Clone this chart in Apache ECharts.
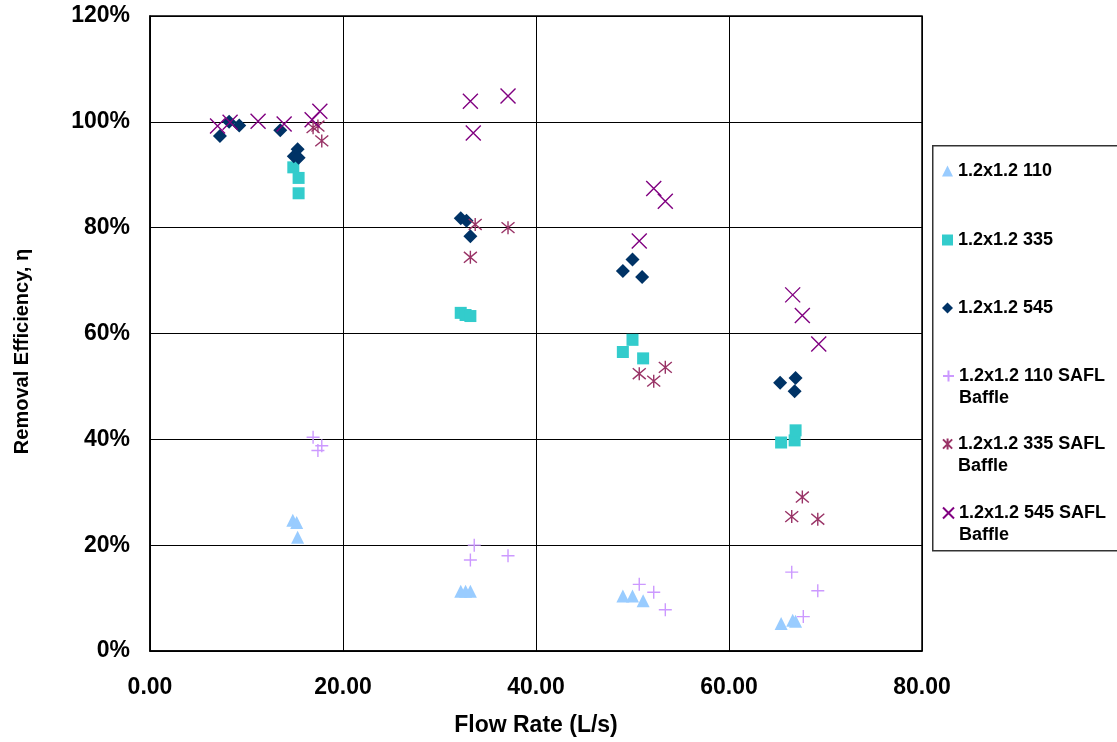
<!DOCTYPE html>
<html>
<head>
<meta charset="utf-8">
<script src="https://cdn.jsdelivr.net/npm/echarts@6/dist/echarts.min.js"></script>
<style>html,body{margin:0;padding:0;background:#fff}#c{width:1117px;height:742px}</style>
</head>
<body>
<div id="c"></div>
<script>
const xTicks = [0, 20, 40, 60, 80];
const yTicks = [0, 20, 40, 60, 80, 100, 120];
const seriesNames = ['1.2x1.2 110', '1.2x1.2 335', '1.2x1.2 545', '1.2x1.2 110 SAFL Baffle', '1.2x1.2 335 SAFL Baffle', '1.2x1.2 545 SAFL Baffle'];

const flow110 = [14.8, 15.2, 15.3, 32.2, 32.7, 33.2, 49.0, 50.0, 51.1, 65.4, 66.6, 66.9];
const eff110  = [24.7, 24.3, 21.5, 11.3, 11.3, 11.3, 10.4, 10.4, 9.5, 5.2, 5.8, 5.6];

const flow335 = [14.85, 15.4, 15.4, 32.2, 32.7, 33.2, 49.0, 50.0, 51.1, 65.4, 66.8, 66.9];
const eff335  = [91.4, 89.4, 86.5, 63.9, 63.5, 63.3, 56.5, 58.8, 55.3, 39.4, 39.8, 41.7];

const flow545 = [7.25, 8.2, 9.25, 13.5, 14.9, 15.3, 15.4, 32.2, 32.8, 33.2, 49.0, 50.0, 51.0, 65.3, 66.8, 66.9];
const eff545  = [97.3, 100.0, 99.3, 98.4, 93.5, 94.8, 93.2, 81.8, 81.3, 78.4, 71.8, 74.0, 70.7, 50.7, 49.1, 51.6];

const flow110S = [16.9, 17.4, 17.8, 33.2, 33.6, 37.1, 50.7, 52.2, 53.4, 66.5, 67.7, 69.2];
const eff110S  = [40.4, 37.9, 38.8, 17.2, 20.0, 18.0, 12.6, 11.1, 7.8, 14.9, 6.5, 11.4];

const flow335S = [16.9, 17.4, 17.8, 33.2, 33.7, 37.1, 50.7, 52.2, 53.4, 66.5, 67.6, 69.2];
const eff335S  = [98.9, 99.2, 96.4, 74.4, 80.6, 80.0, 52.4, 51.0, 53.6, 25.4, 29.1, 24.9];

const flow545S = [7.0, 8.3, 11.2, 13.9, 16.8, 17.6, 33.2, 33.5, 37.1, 50.7, 52.2, 53.4, 66.6, 67.6, 69.3];
const eff545S  = [99.2, 99.9, 100.1, 99.6, 100.4, 102.0, 103.9, 97.9, 104.9, 77.5, 87.4, 85.0, 67.3, 63.4, 58.0];

const pair = (xs, ys) => xs.map((x, i) => [x, ys[i]]);
const FONT = '"Liberation Sans", Arial, sans-serif';

const PLUS = 'path://M0,5L10,5M5,0L5,10';
const ASTER = 'path://M0,0L10,10M10,0L0,10M5,-1L5,11';
const CROSS = 'path://M0,0L10,10M10,0L0,10';

const defs = [
  {data: pair(flow110, eff110), symbol: 'triangle', size: 13, color: '#99CCFF', line: false},
  {data: pair(flow335, eff335), symbol: 'rect', size: 12, color: '#33CCCC', line: false},
  {data: pair(flow545, eff545), symbol: 'diamond', size: 14, color: '#003366', line: false},
  {data: pair(flow110S, eff110S), symbol: PLUS, size: 13, color: '#CC99FF', line: true},
  {data: pair(flow335S, eff335S), symbol: ASTER, size: 13, color: '#993366', line: true},
  {data: pair(flow545S, eff545S), symbol: CROSS, size: 15, color: '#800080', line: true}
];

const series = defs.map((d, i) => ({
  name: seriesNames[i],
  type: 'scatter',
  data: d.data,
  symbol: d.symbol,
  symbolSize: d.size,
  itemStyle: d.line ? {color: d.color, borderColor: d.color, borderWidth: 1.4, opacity: 1}
                    : {color: d.color, borderWidth: 0, opacity: 1},
  emphasis: {disabled: true},
  z: 3
}));

const legendCenters = [171, 240, 308, 376, 444, 513];
const L = 22;
const legends = seriesNames.map((n, i) => {
  const twoLine = i >= 3;
  return {
    data: [n],
    orient: 'vertical',
    left: 942,
    top: twoLine ? legendCenters[i] - 1.5 * L : legendCenters[i] - L / 2,
    padding: 0,
    itemWidth: 11,
    itemHeight: 11,
    itemGap: 0,
    selectedMode: false,
    formatter: function (name) {
      return twoLine ? '\n' + name.replace(' Baffle', '\nBaffle') : name;
    },
    textStyle: {
      fontFamily: FONT, fontWeight: 'bold', fontSize: 18, color: '#000',
      lineHeight: L
    }
  };
});

const chart = echarts.init(document.getElementById('c'), null, {renderer: 'canvas'});
chart.setOption({
  animation: false,
  backgroundColor: '#fff',
  grid: {left: 150, right: 195, top: 16, bottom: 90, show: true, borderColor: '#000', borderWidth: 1.5, backgroundColor: 'transparent'},
  graphic: [{
    type: 'rect', left: 932, top: 145, z: 0,
    shape: {x: 0, y: 0, width: 200, height: 405},
    style: {fill: '#fff', stroke: '#333', lineWidth: 1.5}
  }],
  legend: legends,
  xAxis: {
    type: 'value', min: xTicks[0], max: xTicks[xTicks.length - 1], interval: 20,
    name: 'Flow Rate (L/s)', nameLocation: 'middle', nameGap: 63,
    nameTextStyle: {fontFamily: FONT, fontWeight: 'bold', fontSize: 23, color: '#000'},
    axisLine: {show: true, lineStyle: {color: '#000', width: 1.5}},
    axisTick: {show: false},
    splitLine: {show: true, lineStyle: {color: '#000', width: 1}},
    axisLabel: {fontFamily: FONT, fontWeight: 'bold', fontSize: 23, color: '#000', margin: 25,
      formatter: v => v.toFixed(2)}
  },
  yAxis: {
    type: 'value', min: yTicks[0], max: yTicks[yTicks.length - 1], interval: 20,
    name: 'Removal Efficiency, η', nameLocation: 'middle', nameGap: 118,
    nameTextStyle: {fontFamily: FONT, fontWeight: 'bold', fontSize: 20, color: '#000', padding: [0, 36, 0, 0]},
    axisLine: {show: true, lineStyle: {color: '#000', width: 1.5}},
    axisTick: {show: false},
    splitLine: {show: true, lineStyle: {color: '#000', width: 1}},
    axisLabel: {fontFamily: FONT, fontWeight: 'bold', fontSize: 23, color: '#000', margin: 20,
      formatter: v => v + '%'}
  },
  series: series
});
</script>
</body>
</html>
